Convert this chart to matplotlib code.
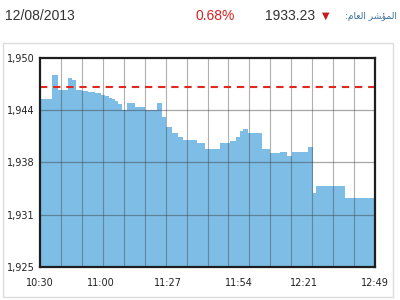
import matplotlib
matplotlib.use("Agg")
import matplotlib.pyplot as plt
from matplotlib.patches import Rectangle

# index level, as steps (sample number -> level)
sample_idx = [0, 5.7, 8.6, 13.4, 15.3, 17.2, 20, 23, 26.3, 29, 31, 33,
              34.4, 36, 37.3, 39.2, 41.6, 45.4, 50.1, 55.9, 58.3, 60.2, 63,
              65.9, 68.3, 75, 78.8, 86, 90.7, 93.6, 95.5, 96.9, 99.3, 106,
              109.9, 114.6, 118, 120.4, 128, 130.4, 131.8, 145.7, 160]
index_level = [1945.05, 1947.95, 1946.2, 1947.6, 1947.35, 1946.2, 1946.0,
               1945.9, 1945.75, 1945.6, 1945.4, 1945.25, 1945.05, 1944.85,
               1944.5, 1943.8, 1944.6, 1944.1, 1943.8, 1944.6, 1942.9,
               1941.7, 1941.0, 1940.5, 1940.2, 1939.8, 1939.1, 1939.8,
               1940.1, 1940.5, 1941.3, 1941.5, 1941.0, 1939.1, 1938.6,
               1938.75, 1938.3, 1938.75, 1939.35, 1933.85, 1934.7, 1933.23,
               1933.23]
prev_close = 1946.47

time_labels = ["10:30", "11:00", "11:27", "11:54", "12:21", "12:49"]
time_pos = [0, 29, 61, 95, 126, 160]
level_ticks = [1925, 1931.25, 1937.5, 1943.75, 1950]
level_labels = ["1,925", "1,931", "1,938", "1,944", "1,950"]

header_date = "12/08/2013"
header_change = "0.68%"
header_value = "1933.23"
header_name = ":\ufee1\ufe8e\ufecc\ufedf\ufe8d \ufeae\ufeb8\ufe86\ufee4\ufedf\ufe8d"  # المؤشر العام:

fig = plt.figure(figsize=(4, 3), dpi=100)
fig.patch.set_facecolor("white")

# light outer frame round the chart
fig.patches.append(Rectangle((0.008, 0.01), 0.975, 0.847, transform=fig.transFigure,
                             fill=False, edgecolor="#dcdcdc", linewidth=1.0))

ax = fig.add_axes([0.1, 0.11, 0.8375, 0.697])
ax.fill_between(sample_idx, index_level, 1925, step="post",
                color="#7dbde6", linewidth=0, zorder=1)
ax.axhline(prev_close, color="#e0281e", linestyle=(0, (3.5, 2.8)), linewidth=1.5, zorder=4)

# grid drawn over the fill
for x in range(10, 160, 10):
    ax.axvline(x, color="#3a3a3a", alpha=0.4, linewidth=0.8, zorder=3)
for y in level_ticks[1:-1]:
    ax.axhline(y, color="#3a3a3a", alpha=0.45, linewidth=0.9, zorder=3)

ax.set_xlim(0, 160)
ax.set_ylim(1925, 1950)
ax.set_xticks(time_pos)
ax.set_xticklabels(time_labels)
ax.set_yticks(level_ticks)
ax.set_yticklabels(level_labels)
ax.tick_params(length=0, labelsize=7, labelcolor="#222222")
ax.tick_params(axis="x", pad=8)
ax.tick_params(axis="y", pad=4)
for s in ax.spines.values():
    s.set_linewidth(1.6)
    s.set_color("#1e1e1e")
    s.set_zorder(5)

fig.text(0.012, 0.948, header_date, fontsize=10, color="#333333",
         family="Liberation Sans", va="center")
fig.text(0.488, 0.948, header_change, fontsize=10, color="#d42020",
         family="Liberation Sans", va="center")
fig.text(0.662, 0.948, header_value, fontsize=10, color="#333333",
         family="Liberation Sans", va="center")
fig.text(0.805, 0.948, "\u25bc", fontsize=7, color="#c41a1a",
         family="DejaVu Sans", va="center")
fig.text(0.862, 0.946, header_name, fontsize=6.5, color="#3a6f9a",
         family="DejaVu Sans", va="center")

fig.savefig("out.png", dpi=100)
